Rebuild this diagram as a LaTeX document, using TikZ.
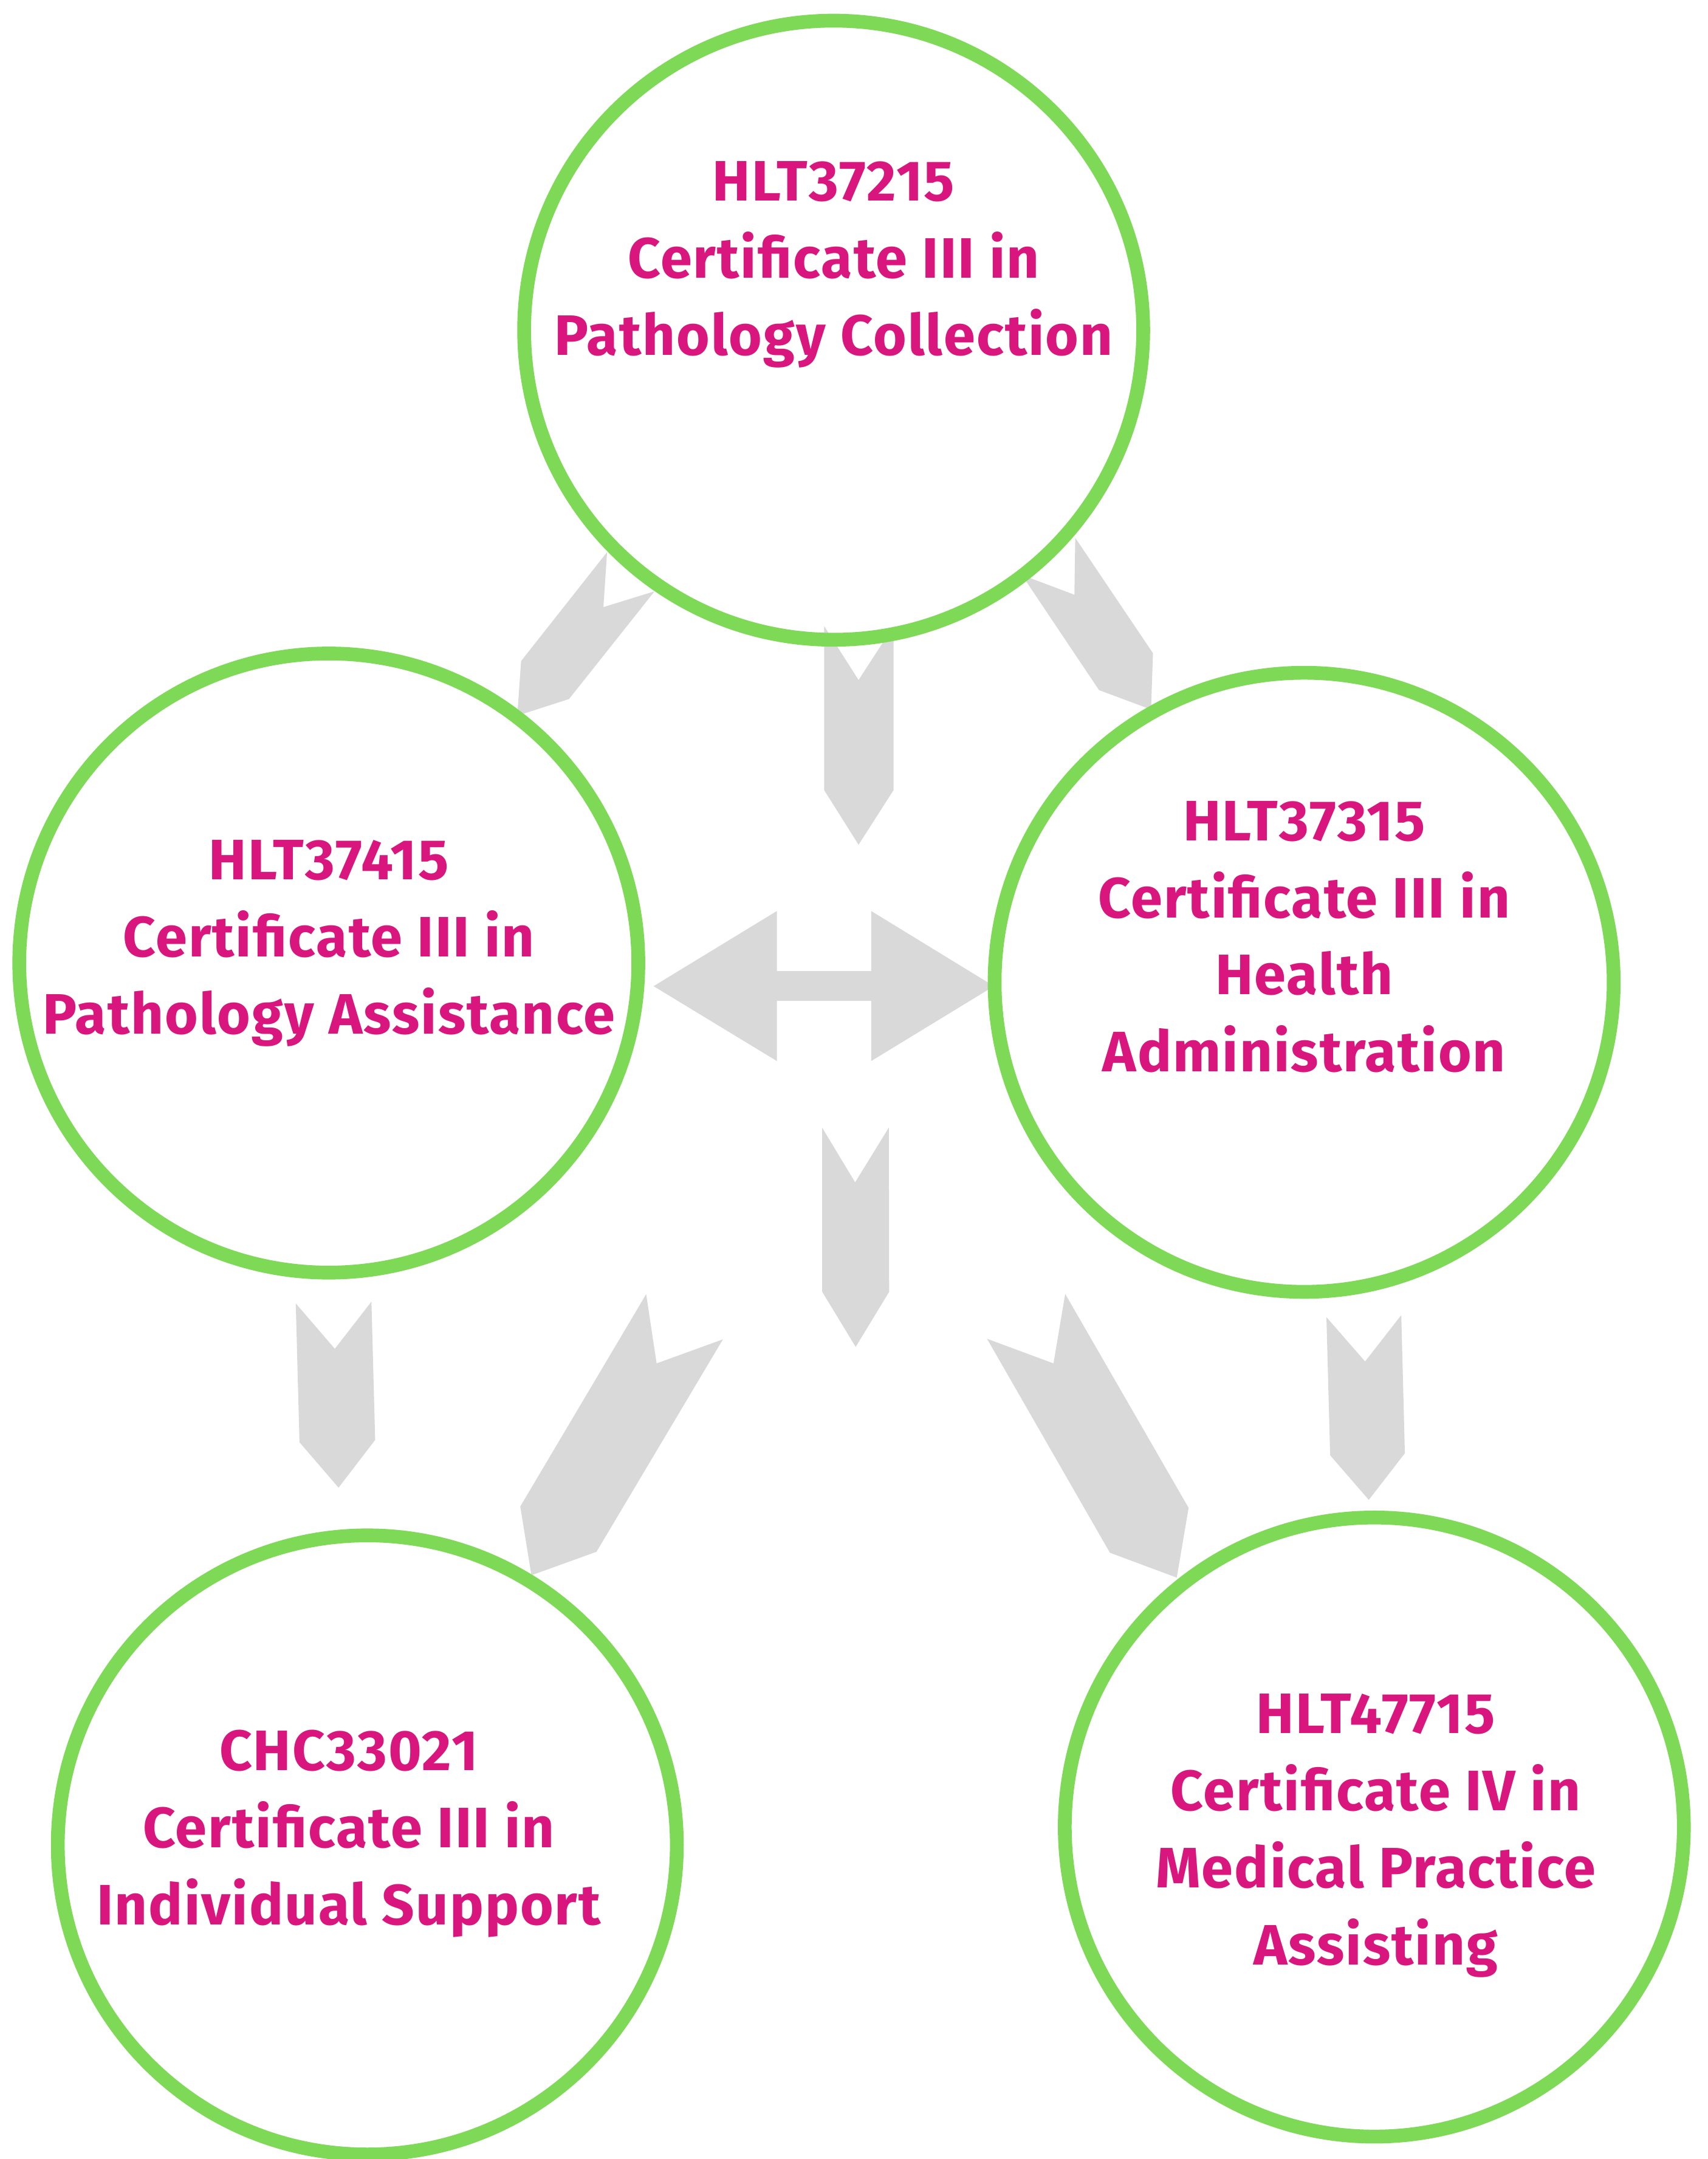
\documentclass[tikz,border=0pt]{standalone}
\usepackage{fontspec}
\setmainfont{Fira Sans}[LetterSpace=2.2]
\definecolor{ringgreen}{RGB}{126,217,87}
\definecolor{textpink}{RGB}{216,22,126}
\definecolor{arrowgray}{RGB}{217,217,217}
\begin{document}
\begin{tikzpicture}[x=1pt,y=-1pt,
  ring/.style={circle,draw=ringgreen,line width=10pt,minimum size=450pt,inner sep=0pt},
  lbl/.style={anchor=base,text=textpink,font=\fontsize{41.4}{56}\selectfont\bfseries,inner sep=0pt},
  blockarrow/.style={fill=arrowgray,draw=none}]
\useasboundingbox[fill=white] (0,0) rectangle (1241.2,1569.3);

% block arrows
\fill[blockarrow] (599.1,455.1) -- (624.1,494.3) -- (649.5,455.1) -- (649.5,574.3) -- (624.1,614.0) -- (599.1,574.3) -- cycle;
\fill[blockarrow] (475.1,716.8) -- (564.7,662.2) -- (564.7,705.8) -- (633.3,705.8) -- (633.3,662.2) -- (722.5,716.8) -- (633.3,771.2) -- (633.3,727.5) -- (564.7,727.5) -- (564.7,771.2) -- cycle;
\fill[blockarrow] (441.3,401.3) -- (438.6,441.3) -- (475.8,429.8) -- (413.6,508.1) -- (376.0,520.2) -- (378.8,480.5) -- cycle;
\fill[blockarrow] (781.6,390.9) -- (781.0,432.3) -- (742.8,417.9) -- (798.9,501.6) -- (836.7,515.7) -- (838.1,474.8) -- cycle;
\fill[blockarrow] (215.0,947.4) -- (243.4,980.4) -- (270.0,946.1) -- (272.7,1046.6) -- (246.1,1081.3) -- (217.7,1048.3) -- cycle;
\fill[blockarrow] (597.6,819.6) -- (621.6,859.4) -- (646.1,819.6) -- (646.3,939.0) -- (622.0,979.0) -- (597.7,939.0) -- cycle;
\fill[blockarrow] (469.7,940.7) -- (477.3,991.0) -- (525.5,973.5) -- (433.6,1127.9) -- (386.3,1145.0) -- (378.2,1095.0) -- cycle;
\fill[blockarrow] (774.3,940.5) -- (765.8,991.0) -- (717.5,973.1) -- (806.8,1128.6) -- (855.4,1146.7) -- (864.0,1096.0) -- cycle;
\fill[blockarrow] (964.2,957.4) -- (992.3,989.6) -- (1018.6,955.9) -- (1021.2,1056.3) -- (995.0,1090.2) -- (966.9,1057.8) -- cycle;

% rings
\node[ring] (c1) at (606,240) {};
\node[ring] (c2) at (239,700) {};
\node[ring] (c3) at (948,714) {};
\node[ring] (c4) at (267,1341) {};
\node[ring] (c5) at (999,1328) {};

% labels
\node[lbl] (t1a) at (606,146) {HLT37215};
\node[lbl] (t1b) at (606,202) {Certificate III in};
\node[lbl] (t1c) at (606,258) {Pathology Collection};

\node[lbl] (t2a) at (239,639.5) {HLT37415};
\node[lbl] (t2b) at (239,695.5) {Certificate III in};
\node[lbl] (t2c) at (239,751.5) {Pathology Assistance};

\node[lbl] (t3a) at (948,611) {HLT37315};
\node[lbl] (t3b) at (948,667) {Certificate III in};
\node[lbl] (t3c) at (948,723) {Health};
\node[lbl] (t3d) at (948,779) {Administration};

\node[lbl] (t4a) at (253.5,1287) {CHC33021};
\node[lbl] (t4b) at (253.5,1343) {Certificate III in};
\node[lbl] (t4c) at (253.5,1399) {Individual Support};

\node[lbl] (t5a) at (1000,1260) {HLT47715};
\node[lbl] (t5b) at (1000,1316) {Certificate IV in};
\node[lbl] (t5c) at (1000,1372) {Medical Practice};
\node[lbl] (t5d) at (1000,1428) {Assisting};
\end{tikzpicture}
\end{document}
